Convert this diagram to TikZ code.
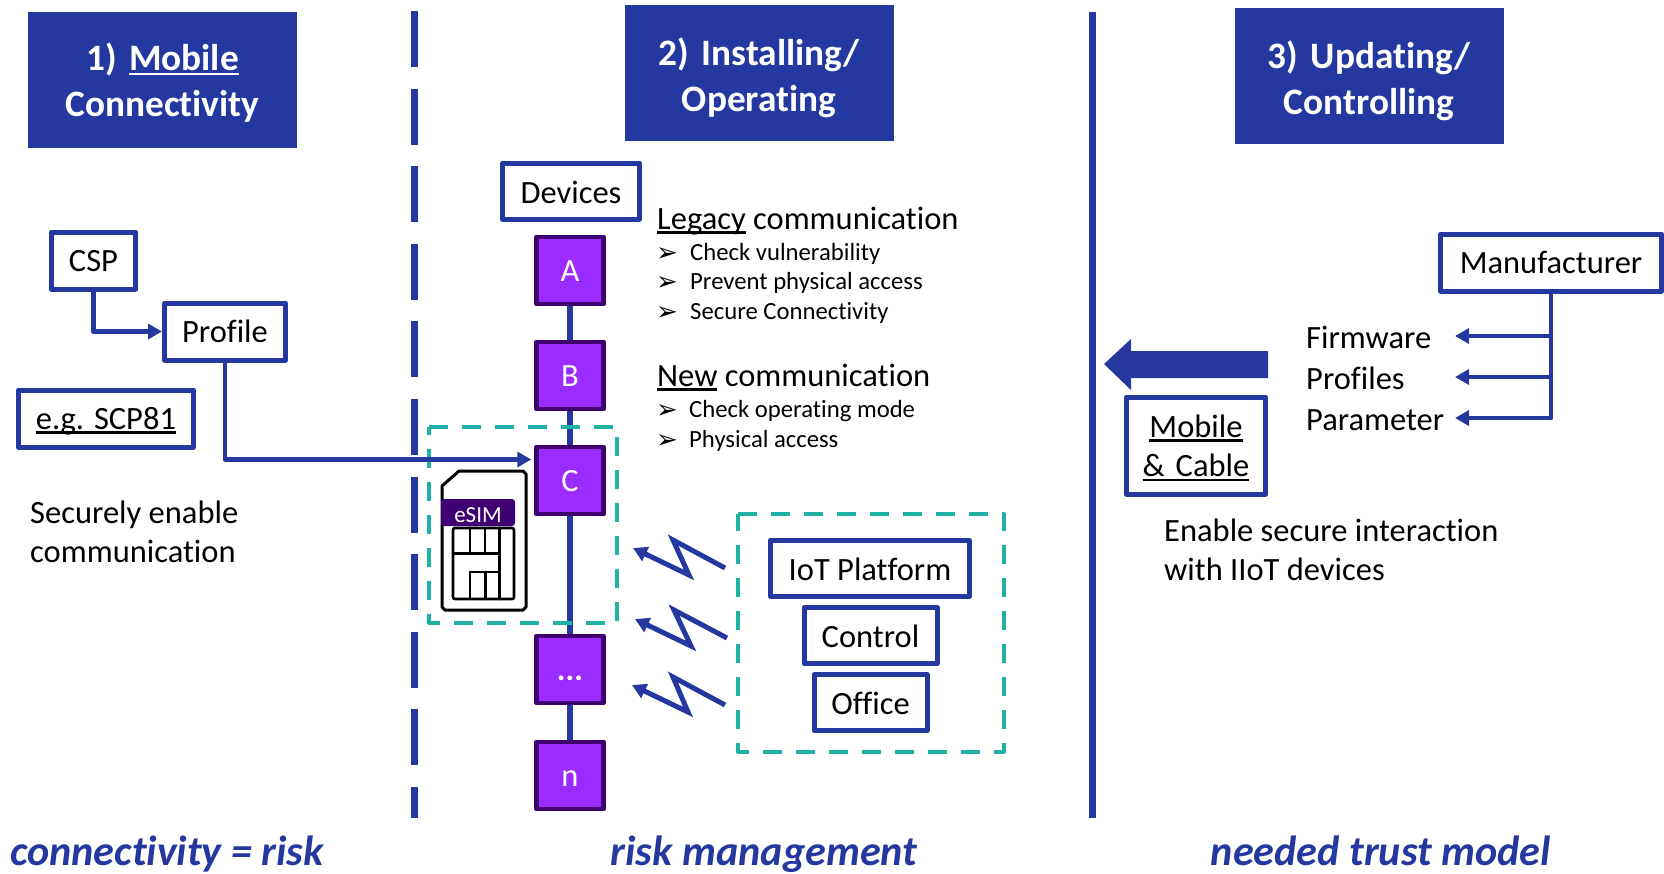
\documentclass[tikz,border=0pt]{standalone}
\usepackage{fontspec}
\setmainfont{Carlito}[Ligatures=NoCommon]
\newfontfamily\dejavu{DejaVu Sans}
\usetikzlibrary{arrows.meta,calc}
\definecolor{bl}{HTML}{2438A0}
\definecolor{tl}{HTML}{1FB2A4}
\definecolor{pf}{HTML}{9B2BFF}
\definecolor{pd}{HTML}{3F0071}
\newcommand{\ulin}[1]{\leavevmode\setbox0=\hbox{#1}\rlap{\rule[-4.5pt]{\wd0}{2.4pt}}\box0\relax}
\newcommand{\ulwh}[1]{\leavevmode\setbox0=\hbox{#1}\rlap{\rule[-5pt]{\wd0}{2.4pt}}\box0\relax}
\newcommand{\fs}[1]{\fontsize{#1}{#1}\selectfont}
\tikzset{
  x=1pt,y=-1pt,
  hdr/.style={fill=bl,draw=bl,line width=1pt,inner sep=0pt,text=white,font=\fs{37.3}\bfseries,align=center,minimum width=268pt,minimum height=135pt,text width=268pt},
  wbox/.style={draw=bl,line width=5pt,fill=white,inner sep=0pt,font=\fs{32.5},align=center,line join=round},
  sbox/.style={wbox,text height=24pt,text depth=3pt},
  pbox/.style={draw=pd,line width=4.5pt,fill=pf,text=white,inner sep=0pt,font=\fs{32.5},minimum width=67pt,minimum height=67pt,line join=round,text height=24pt,text depth=2pt},
  body/.style={inner sep=0pt,anchor=base west,font=\fs{32.5}},
  sub/.style={inner sep=0pt,anchor=base west,font=\fs{24.7}},
  blt/.style={inner sep=0pt,anchor=base west,font=\fs{26}\dejavu},
  foot/.style={inner sep=0pt,anchor=base,text=bl,font=\fs{42.2}\bfseries\itshape},
  conn/.style={draw=bl,line width=4.5pt,line join=round},
  zig/.style={draw=bl,line width=5pt,line join=miter},
  tip/.style={-{Triangle[length=14pt,width=15pt]}},
  tframe/.style={draw=tl,line width=4pt,dash pattern=on 19pt off 14pt,line join=round},
  sep/.style={draw=bl,line width=7pt},
  simline/.style={draw=black,line width=2.6pt,line join=round,line cap=round},
  chain/.style={draw=bl,line width=6pt},
}
\begin{document}
\begin{tikzpicture}
\useasboundingbox (0,0) rectangle (1664,873);
% separators
\draw[sep,dash pattern=on 56pt off 21.6pt] (414,11) -- (414,818);
\draw[sep] (1092,12) -- (1092,818);
% headers
\node[hdr] (h1) at (162.5,79.5) {\vskip-4pt 1) \ulwh{Mobile}\\[9pt]Connectivity};
\node[hdr] (h2) at (759,73) {\vskip0pt 2) Installing/\\[9pt]Operating};
\node[hdr] (h3) at (1369,76) {\vskip0pt 3) Updating/\\[9pt]Controlling};
% left column
\node[sbox,minimum width=84pt,minimum height=57pt] (csp) at (93.5,260.5) {CSP};
\node[sbox,minimum width=121pt,minimum height=57pt] (profile) at (225,331.5) {Profile};
\node[sbox,minimum width=175pt,minimum height=57pt] (scp) at (106,418.5) {\ulin{e.g. SCP81}};
\draw[conn,tip] (csp.south) |- (profile.west);
\node[body] (sec1) at (30,523) {Securely enable};
\node[body] (sec2) at (30,562) {communication};
% device chain
\node[sbox,text height=27pt,minimum width=137pt,minimum height=56pt] (dev) at (571,191) {Devices};
\node[pbox] (A) at (570,270.5) {A};
\node[pbox] (B) at (570,375.5) {B};
\node[pbox] (C) at (570,480.5) {C};
\node[pbox] (D) at (570,669.5) {\textbf{...}};
\node[pbox] (n) at (570,775.5) {n};
\draw[chain] (A) -- (B);
\draw[chain] (B) -- (C);
\draw[chain] (C) -- (D);
\draw[chain] (D) -- (n);
% SIM card
\draw[draw=black,line width=3pt,fill=white,line join=round] (442,486) -- (459,471) -- (523,471) -- (526,474) -- (526,607) -- (523,610) -- (445,610) -- (442,607) -- cycle;
\node[fill=pd,rounded corners=3pt,minimum width=74pt,minimum height=27pt,inner sep=0pt,text=white,font=\fs{23},text height=20pt,text depth=1pt] (esim) at (478,512.5) {eSIM};
\draw[simline,rounded corners=2pt] (453,528) rectangle (514,599);
\draw[simline] (470,528) -- (470,553);
\draw[simline] (485,528) -- (485,553);
\draw[simline] (499.5,528) -- (499.5,599);
\draw[simline] (453,553.5) -- (499.5,553.5);
\draw[simline] (470,572) -- (499.5,572);
\draw[simline] (470,572) -- (470,599);
\draw[simline] (485.5,572) -- (485.5,599);
% teal frames
\draw[tframe] (429,427) -- (617,427) -- (617,622.5) -- (429,622.5) -- cycle;
\draw[conn,tip] (profile.south) |- ([xshift=-3pt,yshift=21pt]C.west);
\draw[tframe] (738,514) -- (1004,514) -- (1004,751.5) -- (738,751.5) -- cycle;
\node[sbox,text height=26pt,minimum width=199pt,minimum height=56pt] (iot) at (870,568.5) {IoT Platform};
\node[sbox,text height=26pt,minimum width=133pt,minimum height=56pt] (ctl) at (870.5,635.5) {Control};
\node[sbox,text height=26pt,minimum width=113pt,minimum height=56pt] (off) at (870.5,702.5) {Office};
% zigzags
\coordinate (z1a) at (725,568); \coordinate (z1b) at (673,540); \coordinate (z1c) at (689,575); \coordinate (z1d) at (633,548);
\coordinate (z2a) at (727,638); \coordinate (z2b) at (674,610); \coordinate (z2c) at (691,646); \coordinate (z2d) at (635,619);
\coordinate (z3a) at (725,705); \coordinate (z3b) at (673,677); \coordinate (z3c) at (688,712); \coordinate (z3d) at (632,685);
\draw[zig,tip] (z1a) -- (z1b) -- (z1c) -- (z1d);
\draw[zig,tip] (z2a) -- (z2b) -- (z2c) -- (z2d);
\draw[zig,tip] (z3a) -- (z3b) -- (z3c) -- (z3d);
% middle text
\node[body] (leg) at (657,229) {\ulin{Legacy} communication};
\node[blt] (b1) at (656,261) {➢}; \node[sub] (l1) at (690,260.5) {Check vulnerability};
\node[blt] (b2) at (656,290) {➢}; \node[sub] (l2) at (690,289.5) {Prevent physical access};
\node[blt] (b3) at (656,320) {➢}; \node[sub] (l3) at (690,319.5) {Secure Connectivity};
\node[body] (new) at (657,386) {\ulin{New} communication};
\node[blt] (b4) at (656,418) {➢}; \node[sub] (l4) at (689,417.5) {Check operating mode};
\node[blt] (b5) at (656,448) {➢}; \node[sub] (l5) at (689,447.5) {Physical access};
% right column
\node[sbox,minimum width=221pt,minimum height=57pt] (man) at (1551,262.5) {Manufacturer};
\coordinate (t1) at (1551,336); \coordinate (t2) at (1551,377); \coordinate (t3) at (1551,418);
\coordinate (a1) at (1455,336); \coordinate (a2) at (1455,377); \coordinate (a3) at (1455,418);
\draw[conn,line cap=round] (man.south -| t1) -- (t3);
\draw[conn,tip] (t1) -- (a1);
\draw[conn,tip] (t2) -- (a2);
\draw[conn,tip] (t3) -- (a3);
\node[body] (fw) at (1306,348) {Firmware};
\node[body] (pr) at (1306,389) {Profiles};
\node[body] (pa) at (1306,430) {Parameter};
\fill[bl,line join=round] (1104,364) -- (1131,339) -- (1131,351) -- (1268,351) -- (1268,378) -- (1131,378) -- (1131,390) -- cycle;
\node[wbox,minimum width=139pt,minimum height=97pt,text width=130pt] (mob) at (1196,445.5) {\vskip-5.5pt \ulin{Mobile}\\[7pt]\ulin{\& Cable}};
\node[body] (en1) at (1164,541) {Enable secure interaction};
\node[body] (en2) at (1164,580) {with IIoT devices};
% footers
\node[foot] (f1) at (167,865) {connectivity = risk};
\node[foot] (f2) at (764,865) {risk management};
\node[foot] (f3) at (1381,865) {needed trust model};
\end{tikzpicture}
\end{document}
